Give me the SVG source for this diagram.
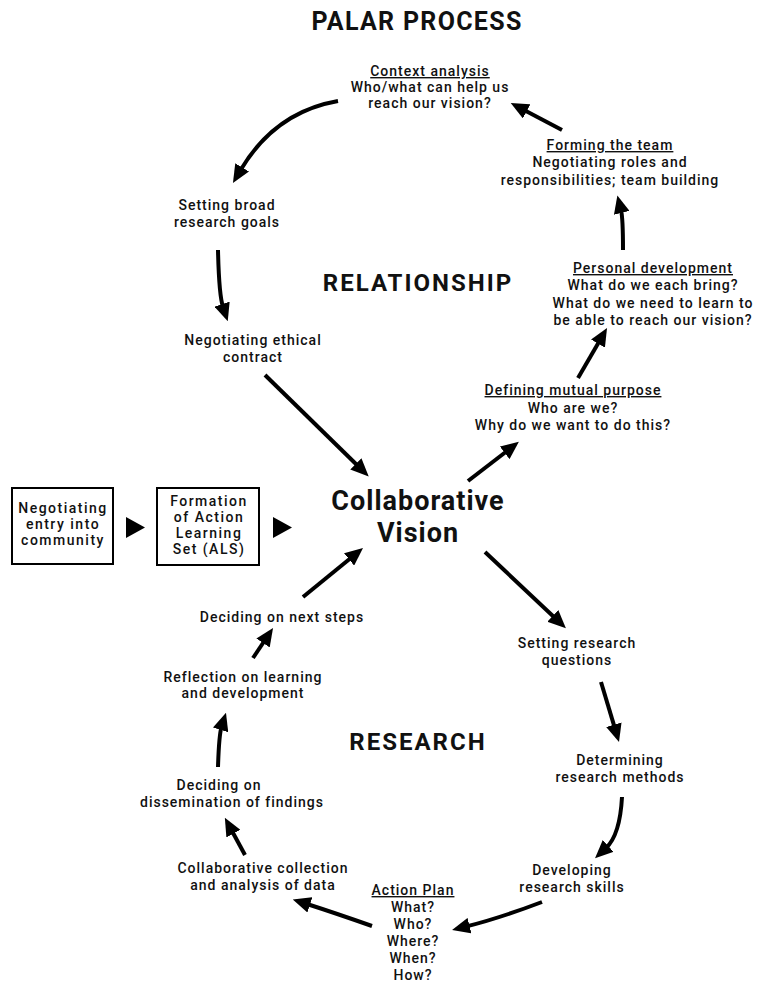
<svg xmlns="http://www.w3.org/2000/svg" width="761" height="985" viewBox="0 0 761 985">
<style>
.t{font-family:Roboto,"Open Sans","Liberation Sans",sans-serif;font-weight:500;font-size:14px;letter-spacing:1px;fill:#111;text-anchor:middle}
.b{font-family:Roboto,"Open Sans","Liberation Sans",sans-serif;font-weight:500;font-size:14px;letter-spacing:1.5px;fill:#111;text-anchor:middle}
.h{font-family:Roboto,"Open Sans","Liberation Sans",sans-serif;font-weight:700;fill:#111;text-anchor:middle}
.u{text-decoration:underline}
.a{fill:none;stroke:#000;stroke-width:4;marker-end:url(#ah)}
.box{fill:#fff;stroke:#000;stroke-width:2}
</style>
<defs>
<marker id="ah" markerUnits="userSpaceOnUse" markerWidth="18" markerHeight="16" viewBox="0 0 18 16" refX="3" refY="8" orient="auto">
<path d="M0,0 L18,8 L0,16 z" fill="#000"/>
</marker>
</defs>
<rect width="761" height="985" fill="#fff"/>
<text class="h" x="417" y="30" font-size="25" letter-spacing="1.3">PALAR PROCESS</text>
<text class="h" x="418" y="291" font-size="24" letter-spacing="2">RELATIONSHIP</text>
<text class="h" x="418" y="750" font-size="24" letter-spacing="2">RESEARCH</text>

<g id="context"><text class="t" x="430" y="76"><tspan class="u">Context analysis</tspan><tspan x="430" y="92">Who/what can help us</tspan><tspan x="430" y="108">reach our vision?</tspan></text></g>
<g id="team"><text class="t" x="610" y="150"><tspan class="u">Forming the team</tspan><tspan x="610" y="167">Negotiating roles and</tspan><tspan x="610" y="185">responsibilities; team building</tspan></text></g>
<g id="personal"><text class="t" x="653" y="273"><tspan class="u">Personal development</tspan><tspan x="653" y="290">What do we each bring?</tspan><tspan x="653" y="308">What do we need to learn to</tspan><tspan x="653" y="325">be able to reach our vision?</tspan></text></g>
<g id="broad"><text class="t" x="227" y="210">Setting broad<tspan x="227" y="227">research goals</tspan></text></g>
<g id="ethical"><text class="t" x="253" y="345">Negotiating ethical<tspan x="253" y="362">contract</tspan></text></g>
<g id="mutual"><text class="t" x="573" y="395"><tspan class="u">Defining mutual purpose</tspan><tspan x="573" y="413">Who are we?</tspan><tspan x="573" y="430">Why do we want to do this?</tspan></text></g>
<g id="vision"><text class="h" x="418" y="510" font-size="27" letter-spacing="1">Collaborative<tspan x="418" y="542">Vision</tspan></text></g>
<g id="entry"><rect class="box" x="12" y="488" width="101" height="76"/><text class="b" x="63" y="513">Negotiating<tspan x="63" y="529">entry into</tspan><tspan x="63" y="545">community</tspan></text></g>
<g id="als"><rect class="box" x="157" y="488" width="102" height="77"/><text class="b" x="209" y="506">Formation<tspan x="209" y="522">of Action</tspan><tspan x="209" y="538">Learning</tspan><tspan x="209" y="554">Set (ALS)</tspan></text></g>
<g id="next"><text class="t" x="282" y="622">Deciding on next steps</text></g>
<g id="reflection"><text class="t" x="243" y="682">Reflection on learning<tspan x="243" y="698">and development</tspan></text></g>
<g id="questions"><text class="t" x="577" y="648">Setting research<tspan x="577" y="665">questions</tspan></text></g>
<g id="methods"><text class="t" x="620" y="765">Determining<tspan x="620" y="782">research methods</tspan></text></g>
<g id="dissemination"><text class="t" x="219" y="790">Deciding on<tspan x="232" y="807">dissemination of findings</tspan></text></g>
<g id="collection"><text class="t" x="263" y="873">Collaborative collection<tspan x="263" y="890">and analysis of data</tspan></text></g>
<g id="skills"><text class="t" x="572" y="875">Developing<tspan x="572" y="892">research skills</tspan></text></g>
<g id="plan"><text class="t" x="413" y="895"><tspan class="u">Action Plan</tspan><tspan x="413" y="912">What?</tspan><tspan x="413" y="929">Who?</tspan><tspan x="413" y="946">Where?</tspan><tspan x="413" y="963">When?</tspan><tspan x="413" y="980">How?</tspan></text></g>

<g id="connectors">
<polygon points="126,517 145,527.5 126,538" fill="#000"/>
<polygon points="273,517 292,527.5 273,538" fill="#000"/>
<path class="a" d="M338,101 Q275,112 240.6,170"/>
<path class="a" d="M218,250 Q219,295 223,307"/>
<path class="a" d="M265,375 L358,466"/>
<path class="a" d="M468,481 L507,451"/>
<path class="a" d="M578,378 L599.5,341"/>
<path class="a" d="M623,250 Q623,218 621,210"/>
<path class="a" d="M562,130 L524,110"/>
<path class="a" d="M485,552 L555,618"/>
<path class="a" d="M601,682 L614.7,727.6"/>
<path class="a" d="M622,797 Q620,835 606,848"/>
<path class="a" d="M542,902 Q500,918 466.6,926.4"/>
<path class="a" d="M372,926 Q335,913 307,904"/>
<path class="a" d="M245,855 L232,831"/>
<path class="a" d="M218,767 Q219,735 221.5,727"/>
<path class="a" d="M253,658 L264.7,640.5"/>
<path class="a" d="M303,597 L351.4,557.5"/>
</g>
</svg>
